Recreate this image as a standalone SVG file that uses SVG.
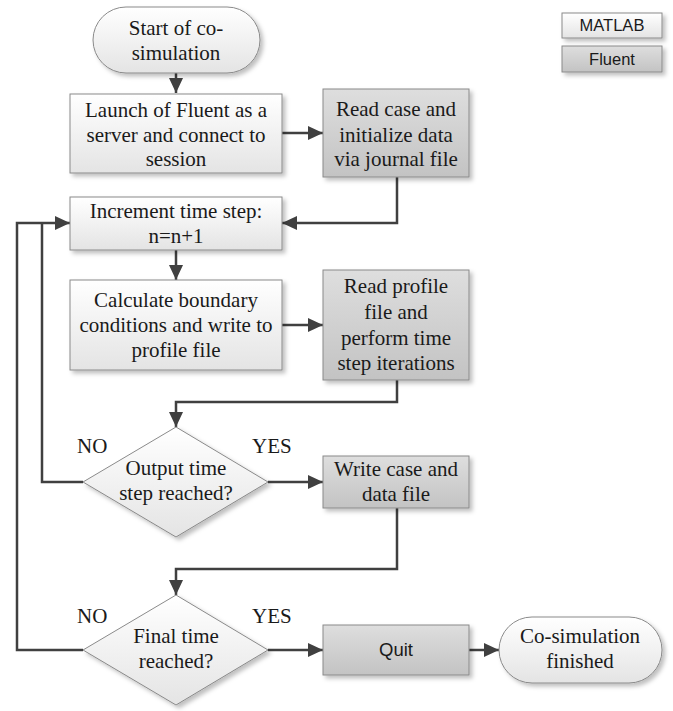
<svg xmlns="http://www.w3.org/2000/svg" width="673" height="711" viewBox="0 0 673 711">
<defs>
<linearGradient id="gw" x1="0" y1="0" x2="0" y2="1"><stop offset="0" stop-color="#ffffff"/><stop offset="1" stop-color="#e4e4e4"/></linearGradient>
<linearGradient id="gg" x1="0" y1="0" x2="0" y2="1"><stop offset="0" stop-color="#dedede"/><stop offset="1" stop-color="#c3c3c3"/></linearGradient>
<filter id="sh" x="-10%" y="-10%" width="130%" height="140%"><feDropShadow dx="3" dy="3" stdDeviation="2" flood-color="#000" flood-opacity="0.25"/></filter>
<marker id="ah" markerUnits="userSpaceOnUse" markerWidth="15" markerHeight="14" refX="15" refY="7" orient="auto"><path d="M0,0 L15,7 L0,14 z" fill="#404040"/></marker>
</defs>
<style>
.m{fill:url(#gw);stroke:#8a8a8a;stroke-width:1;filter:url(#sh)}
.f{fill:url(#gg);stroke:#8a8a8a;stroke-width:1;filter:url(#sh)}
.t{font-family:'Liberation Serif','Times New Roman',serif;font-size:21px;fill:#1a1a1a;text-anchor:middle}
.l{font-family:'Liberation Serif','Times New Roman',serif;font-size:21px;fill:#1a1a1a}
.s{font-family:'Liberation Sans',Arial,sans-serif;font-size:16.5px;fill:#1a1a1a;text-anchor:middle}
.q{font-size:18.5px}
.c{fill:none;stroke:#404040;stroke-width:2.5}
.a{marker-end:url(#ah)}
</style>
<g id="connectors">
<path class="c a" d="M176,73 V93"/>
<path class="c a" d="M282,133 H323"/>
<path class="c a" d="M397,177 V223 H282"/>
<path class="c a" d="M176,250 V280"/>
<path class="c a" d="M282,325 H323"/>
<path class="c a" d="M397,380 V402 H176 V427"/>
<path class="c a" d="M268,482 H323"/>
<path class="c a" d="M397,508 V569 H176 V595"/>
<path class="c a" d="M268,650 H323"/>
<path class="c a" d="M469,650 H499"/>
<path class="c" d="M83,482 H42 V223"/>
<path class="c a" d="M83,650 H17 V223 H70"/>
</g>
<g id="legend-matlab"><rect class="m" x="562" y="13" width="100" height="25"/><text class="s" x="612" y="31">MATLAB</text></g>
<g id="legend-fluent"><rect class="f" x="562" y="46" width="100" height="26"/><text class="s" x="612" y="65">Fluent</text></g>
<g id="start"><rect class="m" x="93" y="7" width="167" height="66" rx="33" ry="33"/><text class="t" x="176" y="35">Start of co-</text><text class="t" x="176" y="60">simulation</text></g>
<g id="launch"><rect class="m" x="70" y="94" width="212" height="79"/><text class="t" x="176" y="117">Launch of Fluent as a</text><text class="t" x="176" y="142">server and connect to</text><text class="t" x="176" y="166">session</text></g>
<g id="readcase"><rect class="f" x="323" y="89" width="146" height="88"/><text class="t" x="396" y="116">Read case and</text><text class="t" x="396" y="142">initialize data</text><text class="t" x="396" y="166">via journal file</text></g>
<g id="increment"><rect class="m" x="70" y="197" width="212" height="53"/><text class="t" x="176" y="218">Increment time step:</text><text class="t" x="176" y="243">n=n+1</text></g>
<g id="calculate"><rect class="m" x="70" y="280" width="212" height="90"/><text class="t" x="176" y="307">Calculate boundary</text><text class="t" x="176" y="332">conditions and write to</text><text class="t" x="176" y="357">profile file</text></g>
<g id="readprofile"><rect class="f" x="323" y="270" width="146" height="110"/><text class="t" x="396" y="293">Read profile</text><text class="t" x="396" y="319">file and</text><text class="t" x="396" y="345">perform time</text><text class="t" x="396" y="370">step iterations</text></g>
<g id="output"><path class="m" d="M176,427 L268,482 L176,537 L83,482 z"/><text class="t" x="176" y="475">Output time</text><text class="t" x="176" y="500">step reached?</text><text class="l" x="77" y="453">NO</text><text class="l" x="252" y="453">YES</text></g>
<g id="writecase"><rect class="f" x="323" y="456" width="146" height="52"/><text class="t" x="396" y="476">Write case and</text><text class="t" x="396" y="501">data file</text></g>
<g id="final"><path class="m" d="M176,595 L268,650 L176,705 L83,650 z"/><text class="t" x="176" y="643">Final time</text><text class="t" x="176" y="668">reached?</text><text class="l" x="77" y="623">NO</text><text class="l" x="252" y="623">YES</text></g>
<g id="quit"><rect class="f" x="323" y="625" width="146" height="50"/><text class="s q" x="396" y="656">Quit</text></g>
<g id="finished"><rect class="m" x="499" y="617" width="163" height="66" rx="33" ry="33"/><text class="t" x="580" y="643">Co-simulation</text><text class="t" x="580" y="668">finished</text></g>
</svg>
